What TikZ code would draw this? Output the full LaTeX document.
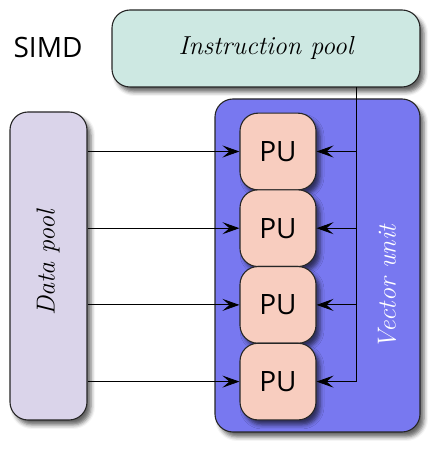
\documentclass[tikz,border=0pt]{standalone}
\usepackage{fontspec}
\setsansfont{Open Sans}
\usepackage{xcolor}
\usetikzlibrary{arrows.meta,shadows.blur}
\definecolor{instrfill}{HTML}{CDE8E2}
\definecolor{datafill}{HTML}{DAD4EA}
\definecolor{vecfill}{HTML}{7878F0}
\definecolor{pufill}{HTML}{F8CDBF}
\begin{document}
\begin{tikzpicture}[x=1pt,y=1pt,
    pool/.style={draw=black!85,line width=1.1pt,rounded corners=18pt,blur shadow={shadow xshift=4pt,shadow yshift=-5pt,shadow blur radius=4pt,shadow opacity=60}},
    pu/.style={pool,fill=pufill,minimum width=76pt,minimum height=76.7pt,font=\sffamily\fontsize{28}{30}\selectfont},
    link/.style={-{Stealth[length=17pt,width=12pt,inset=7pt]},thick}]
  \useasboundingbox (0,0) rectangle (440,453);
  \node[font=\sffamily\fontsize{28}{30}\selectfont] (simd) at (48,405) {SIMD};
  \node[pool,fill=instrfill,minimum width=308pt,minimum height=77pt,font=\itshape\fontsize{26}{28}\selectfont] (ip) at (266,404.5) {Instruction pool};
  \node[pool,fill=datafill,minimum width=77pt,minimum height=308pt] (dp) at (48.5,187) {};
  \node[rotate=90,font=\itshape\fontsize{26}{28}\selectfont] (dplabel) at (48,190) {Data pool};
  \node[pool,fill=vecfill,minimum width=205pt,minimum height=333pt] (vu) at (317.5,187.5) {};
  \node[rotate=90,text=white,font=\itshape\fontsize{26}{28}\selectfont] (vulabel) at (387,166) {Vector unit};
  \foreach \i in {1,...,4}
    \node[pu] (pu\i) at (278,{301.5-76.7*(\i-1)}) {PU};
  \coordinate (ib) at (356,366);
  \draw[thick] (ib) -- (ib |- pu4);
  \foreach \i in {1,...,4} {
    \draw[link] (dp.east |- pu\i) -- (pu\i.west);
    \draw[link] (ib |- pu\i) -- (pu\i.east);
  }
\end{tikzpicture}
\end{document}
